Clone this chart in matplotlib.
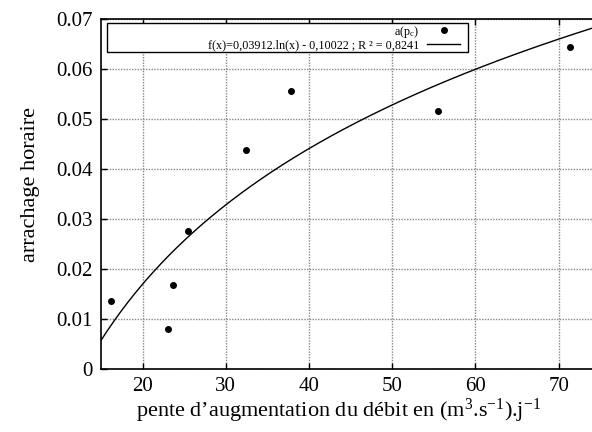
import numpy as np
import matplotlib
matplotlib.use("Agg")
import matplotlib.pyplot as plt
from matplotlib.offsetbox import DrawingArea, HPacker

plt.rcParams['font.family'] = ['Liberation Serif', 'DejaVu Serif']
plt.rcParams['mathtext.fontset'] = 'custom'
plt.rcParams['mathtext.rm'] = 'Liberation Serif'
plt.rcParams['mathtext.it'] = 'Liberation Serif:italic'
plt.rcParams['mathtext.bf'] = 'Liberation Serif:bold'

# data
pente = [16.2, 23.0, 23.7, 25.4, 32.4, 37.8, 55.5, 71.4]
arrachage = [0.0137, 0.0081, 0.0169, 0.0276, 0.0438, 0.0555, 0.0515, 0.0643]
coef_a = 0.03912
coef_b = -0.10022
x_ticks = [20, 30, 40, 50, 60, 70]
y_ticks = [0, 0.01, 0.02, 0.03, 0.04, 0.05, 0.06, 0.07]
y_ticklabels = ['0', '0.01', '0.02', '0.03', '0.04', '0.05', '0.06', '0.07']
x_range = (15, 74)

fig = plt.figure(figsize=(5.92, 4.32), dpi=100)
ax = fig.add_axes([101/592, 63/432, 1 - 101/592, 350/432])

xf = np.linspace(x_range[0], x_range[1], 300)
yf = coef_a * np.log(xf) + coef_b

ax.plot(pente, arrachage, 'o', color='black', markersize=4, linestyle='none',
        label='a(p$_\\mathrm{c}$)', zorder=3)
ax.plot(xf, yf, '-', color='black', linewidth=1.0,
        label='f(x)=0,03912.ln(x) - 0,10022 ; R \u00b2 = 0,8241', zorder=3)

ax.set_xlim(*x_range)
ax.set_ylim(0, 0.07)
ax.set_xticks(x_ticks)
ax.set_yticks(y_ticks)
ax.set_yticklabels(y_ticklabels)
ax.tick_params(axis='both', direction='in', length=4, width=1, labelsize=15,
               top=True, right=False, pad=6)
ax.grid(True, linestyle=(0, (1, 1)), color='#888888', linewidth=1.0)
ax.set_axisbelow(True)
for s in ['left', 'bottom', 'top']:
    ax.spines[s].set_linewidth(1.2)
ax.spines['right'].set_visible(False)

ax.set_xlabel('pente d\u2019augmentation du débit en (m$^3$.s$^{-1}$).j$^{-1}$',
              fontsize=16)
ax.set_ylabel('arrachage horaire', fontsize=16)
ax.xaxis.set_label_coords((339 - 101) / 491, -0.08)
ax.yaxis.set_label_coords(-0.125, 0.526)

# legend box in axes coordinates
x0 = (107 - 101) / 491
x1 = (468 - 101) / 491
ytop = (369 - 23) / 350
ybot = (369 - 47) / 350
leg = ax.legend(loc='upper left', bbox_to_anchor=(x0, ybot, x1 - x0, ytop - ybot),
                mode='expand', markerfirst=False, fontsize=8.7, frameon=True,
                fancybox=False, edgecolor='black', framealpha=1,
                borderpad=0.05, labelspacing=0.0, handlelength=2.8,
                handletextpad=0.6, borderaxespad=0)
leg.get_frame().set_linewidth(1.0)
kids = leg._legend_handle_box.get_children()
col = kids[0]
kids[0] = HPacker(pad=0, sep=0, align='top', children=[col, DrawingArea(5, 0)])
kids.insert(0, DrawingArea(0, 0))

fig.savefig('out.png', dpi=100)
